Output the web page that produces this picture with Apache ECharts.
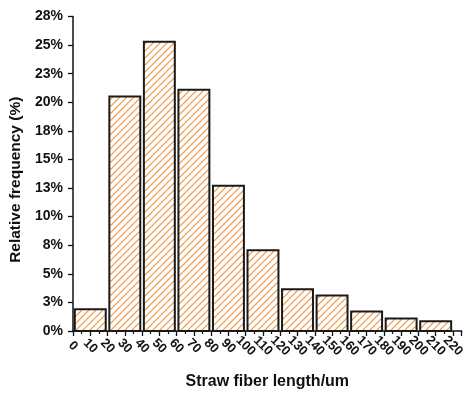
<!DOCTYPE html>
<html>
<head>
<meta charset="utf-8">
<script src="https://cdn.jsdelivr.net/npm/echarts@6/dist/echarts.min.js"></script>
<style>
html,body{margin:0;padding:0;background:#fff;}
#chart{width:468px;height:394px;}
</style>
</head>
<body>
<div id="chart"></div>
<script>
var binStarts = [0, 20, 40, 60, 80, 100, 120, 140, 160, 180, 200];
var binEnds   = [20, 40, 60, 80, 100, 120, 140, 160, 180, 200, 220];
var frequency = [1.9, 20.5, 25.3, 21.1, 12.7, 7.05, 3.65, 3.1, 1.7, 1.1, 0.85];
var yTicks = [0, 2.5, 5, 7.5, 10, 12.5, 15, 17.5, 20, 22.5, 25, 27.5];
var xLabelMax = 220;

var hatch = document.createElement('canvas');
hatch.width = 7; hatch.height = 7;
(function(){
  var c = hatch.getContext('2d');
  c.fillStyle = '#ffffff';
  c.fillRect(0,0,7,7);
  c.strokeStyle = '#f0913a';
  c.lineWidth = 1.1;
  c.beginPath();
  c.moveTo(-1, 8); c.lineTo(8, -1);
  c.moveTo(-1, 1); c.lineTo(1, -1);
  c.moveTo(6, 8); c.lineTo(8, 6);
  c.stroke();
})();

var data = binStarts.map(function(s, i){ return [s, binEnds[i], frequency[i]]; });

var chart = echarts.init(document.getElementById('chart'), null, {renderer:'canvas'});
var font = 'Liberation Sans, Arial, sans-serif';
chart.setOption({
  animation: false,
  backgroundColor: '#fff',
  grid: {left: 73, right: 6.4, top: 16.5, bottom: 63, containLabel: false, outerBoundsMode: 'none'},
  xAxis: {
    type: 'value', min: 0, max: 225, interval: 10,
    name: 'Straw fiber length/um', nameLocation: 'middle', nameGap: 43,
    nameTextStyle: {fontFamily: font, fontWeight: 'bold', fontSize: 16, color: '#111'},
    axisLine: {show: true, lineStyle: {color: '#111', width: 1.5}},
    axisTick: {show: true, length: 5, lineStyle: {color: '#111', width: 1.3}},
    minorTick: {show: true, splitNumber: 2, length: 3, lineStyle: {color: '#111', width: 1.2}},
    splitLine: {show: false}, minorSplitLine: {show: false},
    axisLabel: {
      rotate: -45, align: 'center', verticalAlign: 'middle', margin: 15,
      fontFamily: font, fontWeight: 'bold', fontSize: 13, color: '#111',
      showMaxLabel: true, hideOverlap: false,
      formatter: function(v){ return (v % 10 === 0 && v <= xLabelMax) ? String(v) : ''; }
    }
  },
  yAxis: {
    type: 'value', min: yTicks[0], max: yTicks[yTicks.length-1], interval: 2.5,
    name: 'Relative frequency (%)', nameLocation: 'middle', nameGap: 48,
    nameTextStyle: {fontFamily: font, fontWeight: 'bold', fontSize: 15.5, color: '#111', padding: [0, 12, 0, 0]},
    axisLine: {show: true, lineStyle: {color: '#111', width: 1.5}},
    axisTick: {show: true, length: 5, lineStyle: {color: '#111', width: 1.3}},
    splitLine: {show: false},
    axisLabel: {
      margin: 10, fontFamily: font, fontWeight: 'bold', fontSize: 14, color: '#111',
      formatter: function(v){ return Math.round(v) + '%'; }
    }
  },
  series: [{
    type: 'custom',
    data: data,
    encode: {x: [0, 1], y: 2},
    renderItem: function(params, api){
      var p0 = api.coord([api.value(0), api.value(2)]);
      var p1 = api.coord([api.value(1), 0]);
      var inset = 1.8;
      return {
        type: 'rect',
        shape: {x: p0[0] + inset, y: p0[1], width: p1[0] - p0[0] - 2*inset, height: p1[1] - p0[1]},
        style: {fill: {image: hatch, repeat: 'repeat'}, stroke: '#1a1a1a', lineWidth: 2}
      };
    }
  }]
});
</script>
</body>
</html>
